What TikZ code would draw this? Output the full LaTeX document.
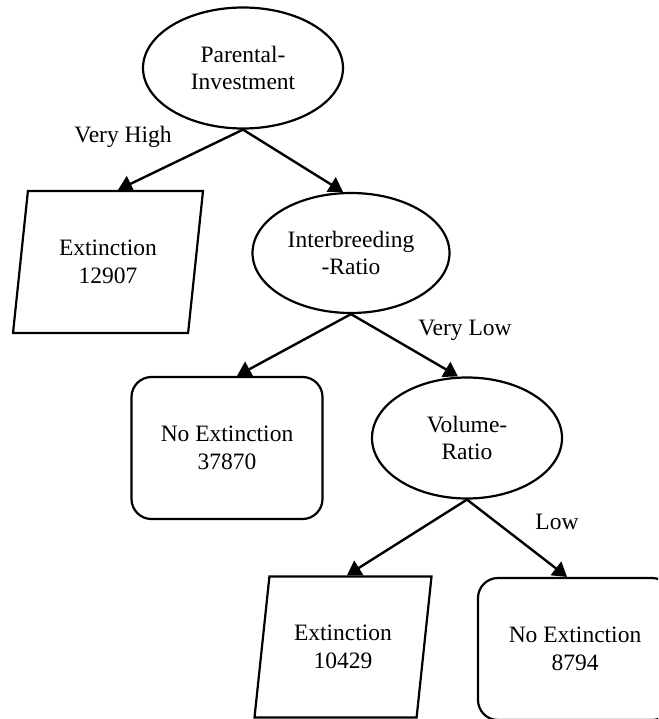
\documentclass[tikz,border=0pt]{standalone}
\usepackage{fontspec}
\setmainfont{Liberation Serif}
\usetikzlibrary{shapes.geometric,arrows.meta}
\tikzstyle{splitNode}=[draw,ellipse,line width=2.2pt,align=center,inner sep=0pt]
\tikzstyle{leafYes}=[draw,trapezium,trapezium left angle=71,trapezium right angle=109,trapezium stretches body,line width=2.2pt,align=center,inner sep=0pt]
\tikzstyle{leafNo}=[draw,rectangle,rounded corners=20pt,line width=2.2pt,align=center,inner sep=0pt]
\tikzstyle{branch}=[-{Triangle[length=14pt,width=17pt]}, line width=2.4pt]

\begin{document}
\begin{tikzpicture}[x=1pt,y=-1pt,font=\fontsize{23.5}{27.5}\selectfont]

    \useasboundingbox (0,0) rectangle (658,719);
    \clip (0,0) rectangle (658,719);

    \node[splitNode,minimum width=200pt,minimum height=121pt] (PI) at (243, 68) {Parental-\\Investment};
    \node[splitNode,minimum width=197pt,minimum height=120pt] (IR) at (351, 253) {Interbreeding\\-Ratio};
    \node[splitNode,minimum width=190pt,minimum height=121pt] (VR) at (467, 438) {Volume-\\Ratio};

    \node[leafYes,minimum width=190pt,minimum height=142pt] (EX1) at (108, 262) {Extinction\\12907};
    \node[leafYes,minimum width=177pt,minimum height=141pt] (EX2) at (343, 647) {Extinction\\10429};

    \node[leafNo,minimum width=191pt,minimum height=142pt] (NE1) at (227, 448) {No Extinction\\37870};
    \node[leafNo,minimum width=194pt,minimum height=142pt] (NE2) at (575, 649) {No Extinction\\8794};

    \node (lblHigh) at (123, 137) {Very High};
    \node (lblVLow) at (465, 330) {Very Low};
    \node (lblLow) at (557, 522) {Low};

    \draw[branch] (PI.south) to ([xshift=10pt]EX1.north);
    \draw[branch] (PI.south) to ([xshift=-8pt]IR.north);

    \draw[branch] (IR.south) to ([xshift=10pt]NE1.north);
    \draw[branch] (IR.south) to ([xshift=-9pt]VR.north);

    \draw[branch] (VR.south) to ([xshift=4pt]EX2.north);
    \draw[branch] (VR.south) to ([xshift=-8pt]NE2.north);

\end{tikzpicture}
\end{document}
